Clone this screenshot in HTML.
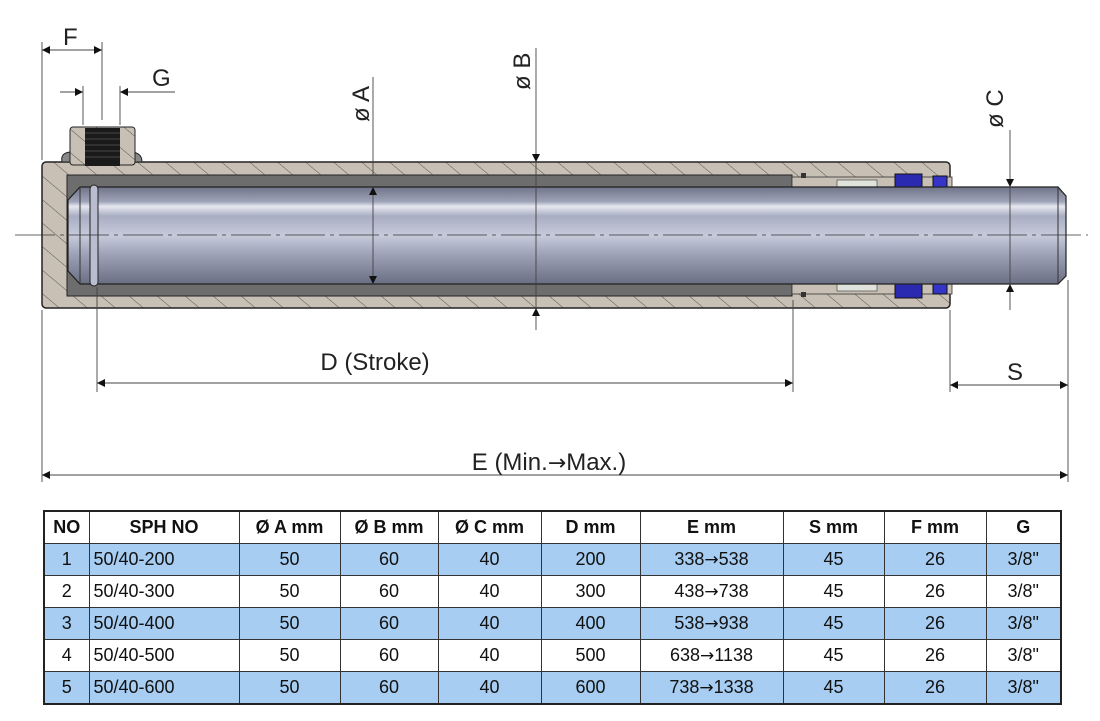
<!DOCTYPE html>
<html><head><meta charset="utf-8">
<style>
html,body{margin:0;padding:0;background:#fff;}
body{width:1100px;height:721px;position:relative;overflow:hidden;font-family:"Liberation Sans",sans-serif;}
svg{position:absolute;left:0;top:0;}
table{position:absolute;left:43px;top:510px;border-collapse:collapse;font-family:"Liberation Sans",sans-serif;font-size:18px;color:#111;}
td,th{border:1px solid #333;padding:0;height:31px;text-align:center;}
th{font-weight:bold;background:#fff;height:31px;}
tr.b td{background:#a7cdf2;}
td.l{text-align:left;padding-left:4px;}
table{border:2px solid #222;}
.ar{font-family:"DejaVu Sans",sans-serif;font-size:17px;}
</style></head><body>
<svg width="1100" height="721" viewBox="0 0 1100 721">
<defs>
<pattern id="h" width="18" height="18" patternUnits="userSpaceOnUse" patternTransform="rotate(-50)">
<rect width="18" height="18" fill="#c9c0b5"/><line x1="0" y1="0" x2="0" y2="18" stroke="#555" stroke-width="1"/>
</pattern>
<linearGradient id="rod" x1="0" y1="0" x2="0" y2="1">
<stop offset="0" stop-color="#6f7489"/><stop offset="0.15" stop-color="#9ea3b8"/><stop offset="0.2" stop-color="#e6e8f0"/><stop offset="0.3" stop-color="#a8adc2"/><stop offset="0.5" stop-color="#c6cadb"/><stop offset="0.7" stop-color="#9ca1b6"/><stop offset="1" stop-color="#6a6f84"/>
</linearGradient>
<marker id="a" viewBox="0 0 10 10" refX="10" refY="5" markerWidth="16" markerHeight="8" orient="auto-start-reverse" markerUnits="userSpaceOnUse"><path d="M0,0L10,5L0,10z" fill="#111"/></marker>
</defs>
<rect x="42" y="162" width="908" height="146" rx="4" fill="url(#h)" stroke="#222" stroke-width="1.5"/>
<rect x="67" y="175" width="725" height="121" fill="#6d6d6d" stroke="#222"/>
<rect x="792" y="177" width="160" height="10" fill="#c9c0b5" stroke="#333" stroke-width="0.8"/>
<rect x="792" y="284" width="160" height="10" fill="#c9c0b5" stroke="#333" stroke-width="0.8"/>
<rect x="837" y="180" width="40" height="7" fill="#dfe3dc" stroke="#333" stroke-width="0.6"/>
<rect x="837" y="284" width="40" height="7" fill="#dfe3dc" stroke="#333" stroke-width="0.6"/>
<rect x="895" y="174" width="27" height="13" fill="#2a2ab0" stroke="#111"/>
<rect x="933" y="176" width="14" height="11" fill="#3434c8" stroke="#111"/>
<rect x="895" y="284" width="27" height="14" fill="#2a2ab0" stroke="#111"/>
<rect x="933" y="284" width="14" height="10" fill="#3434c8" stroke="#111"/>
<rect x="801" y="173" width="5" height="5" fill="#333"/><rect x="801" y="292" width="5" height="5" fill="#333"/>
<path d="M80,187 L1058,187 L1066,196 L1066,276 L1058,284 L80,284 L68,271 L68,200 Z" fill="url(#rod)" stroke="#222" stroke-width="1.2"/>
<line x1="80" y1="187" x2="80" y2="284" stroke="#333"/>
<rect x="90" y="185" width="8" height="101" rx="4" fill="#b9bdd0" stroke="#222"/>
<line x1="1058" y1="187" x2="1058" y2="284" stroke="#333"/>
<path d="M62,162 Q60,152 72,152 L72,162Z M130,152 Q142,152 142,162 L130,162Z" fill="#888" stroke="#222"/>
<rect x="70" y="127" width="65" height="38" rx="3" fill="url(#h)" stroke="#222"/>
<rect x="85" y="128" width="35" height="38" fill="#1a1a1a"/>
<g stroke="#555" stroke-width="0.8"><line x1="85" y1="133" x2="120" y2="133"/><line x1="85" y1="139" x2="120" y2="139"/><line x1="85" y1="145" x2="120" y2="145"/><line x1="85" y1="151" x2="120" y2="151"/><line x1="85" y1="157" x2="120" y2="157"/></g>
<line x1="15" y1="235" x2="1088" y2="235" stroke="#333" stroke-width="0.8" stroke-dasharray="40,5,4,5"/>
<g stroke="#444" stroke-width="0.9" fill="none">
<line x1="42" y1="42" x2="42" y2="160"/><line x1="42" y1="310" x2="42" y2="482"/>
<line x1="102" y1="42" x2="102" y2="120"/>
<line x1="42" y1="50" x2="102" y2="50" marker-start="url(#a)" marker-end="url(#a)"/>
<line x1="83" y1="86" x2="83" y2="125"/><line x1="120" y1="86" x2="120" y2="125"/>
<line x1="60" y1="92" x2="83" y2="92" marker-end="url(#a)"/><line x1="175" y1="92" x2="120" y2="92" marker-end="url(#a)"/>
<line x1="373" y1="77" x2="373" y2="176"/>
<line x1="373" y1="187" x2="373" y2="284" marker-start="url(#a)" marker-end="url(#a)"/>
<line x1="536" y1="48" x2="536" y2="162" marker-end="url(#a)"/>
<line x1="536" y1="330" x2="536" y2="308" marker-end="url(#a)"/>
<line x1="536" y1="162" x2="536" y2="308"/>
<line x1="1010" y1="130" x2="1010" y2="187" marker-end="url(#a)"/>
<line x1="1010" y1="310" x2="1010" y2="284" marker-end="url(#a)"/>
<line x1="1010" y1="187" x2="1010" y2="284"/>
<line x1="97" y1="287" x2="97" y2="392"/><line x1="793" y1="300" x2="793" y2="392"/>
<line x1="97" y1="383" x2="793" y2="383" marker-start="url(#a)" marker-end="url(#a)"/>
<line x1="950" y1="310" x2="950" y2="392"/><line x1="1068" y1="280" x2="1068" y2="482"/>
<line x1="950" y1="385" x2="1068" y2="385" marker-start="url(#a)" marker-end="url(#a)"/>
<line x1="42" y1="475" x2="1068" y2="475" marker-start="url(#a)" marker-end="url(#a)"/>
</g>
<g font-family="Liberation Sans, sans-serif" font-size="24" fill="#222">
<text x="63" y="45">F</text>
<text x="152" y="86">G</text>
<text x="375" y="370" text-anchor="middle">D (Stroke)</text>
<text x="1007" y="380">S</text>
<text x="549" y="470" text-anchor="middle">E (Min.<tspan font-family="DejaVu Sans, sans-serif" font-size="22">→</tspan>Max.)</text>
<text transform="translate(369,122) rotate(-90)">ø A</text>
<text transform="translate(530,90) rotate(-90)">ø B</text>
<text transform="translate(1003,128) rotate(-90)">ø C</text>
</g>
</svg>
<table>
<colgroup><col style="width:45px"><col style="width:150px"><col style="width:101px"><col style="width:98px"><col style="width:103px"><col style="width:99px"><col style="width:143px"><col style="width:101px"><col style="width:102px"><col style="width:75px"></colgroup>
<tr><th>NO</th><th>SPH NO</th><th>Ø A mm</th><th>Ø B mm</th><th>Ø C mm</th><th>D mm</th><th>E mm</th><th>S mm</th><th>F mm</th><th>G</th></tr>
<tr class="b"><td>1</td><td class="l">50/40-200</td><td>50</td><td>60</td><td>40</td><td>200</td><td>338<span class="ar">→</span>538</td><td>45</td><td>26</td><td>3/8"</td></tr>
<tr><td>2</td><td class="l">50/40-300</td><td>50</td><td>60</td><td>40</td><td>300</td><td>438<span class="ar">→</span>738</td><td>45</td><td>26</td><td>3/8"</td></tr>
<tr class="b"><td>3</td><td class="l">50/40-400</td><td>50</td><td>60</td><td>40</td><td>400</td><td>538<span class="ar">→</span>938</td><td>45</td><td>26</td><td>3/8"</td></tr>
<tr><td>4</td><td class="l">50/40-500</td><td>50</td><td>60</td><td>40</td><td>500</td><td>638<span class="ar">→</span>1138</td><td>45</td><td>26</td><td>3/8"</td></tr>
<tr class="b"><td>5</td><td class="l">50/40-600</td><td>50</td><td>60</td><td>40</td><td>600</td><td>738<span class="ar">→</span>1338</td><td>45</td><td>26</td><td>3/8"</td></tr>
</table>
</body></html>
